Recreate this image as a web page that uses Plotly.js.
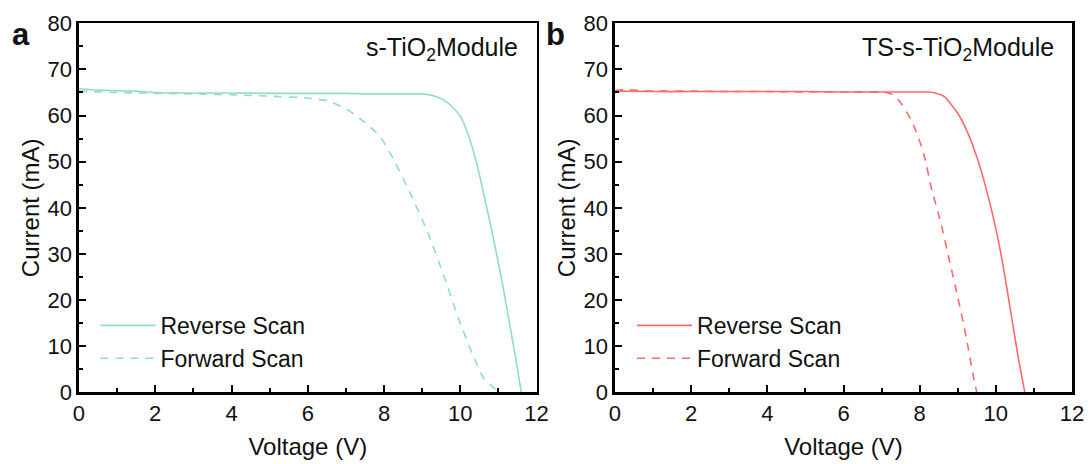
<!DOCTYPE html>
<html>
<head>
<meta charset="utf-8">
<script src="https://cdn.plot.ly/plotly-3.0.1.min.js"></script>
<style>html,body{margin:0;padding:0;background:#fff;}#chart{width:1091px;height:464px;}</style>
</head>
<body>
<div id="chart"></div>
<script>
// Panel a: s-TiO2 Module
const aRevV = [0, 0.5, 1, 1.5, 2, 3, 4, 5, 6, 7, 7.5, 8, 8.5, 9.0, 9.3, 9.58, 9.8, 10.01, 10.2, 10.43, 10.6, 10.86, 11.1, 11.29, 11.45, 11.6];
const aRevI = [65.8, 65.5, 65.4, 65.3, 65.0, 64.9, 64.9, 64.8, 64.8, 64.8, 64.7, 64.7, 64.7, 64.7, 64.3, 63.3, 61.8, 59.7, 56.0, 49.7, 43.5, 33.7, 23.8, 15.0, 7.5, 0];
const aFwdV = [0, 1, 2, 3, 4, 5, 6, 6.5, 7.0, 7.5, 7.9, 8.22, 8.69, 9.16, 9.58, 9.97, 10.35, 10.6, 10.75, 10.9, 11.0];
const aFwdI = [65.3, 65.0, 64.8, 64.7, 64.5, 64.2, 63.8, 63.2, 61.5, 58.5, 55.4, 51.0, 43.1, 34.4, 25.0, 15.6, 7.7, 3.2, 2.0, 0.8, 0];
// Panel b: TS-s-TiO2 Module
const bRevV = [0, 1, 2, 3, 4, 5, 6, 7, 8.0, 8.22, 8.45, 8.65, 9.0, 9.26, 9.52, 9.75, 10.0, 10.2, 10.4, 10.6, 10.76];
const bRevI = [65.3, 65.2, 65.2, 65.2, 65.2, 65.2, 65.1, 65.1, 65.1, 65.1, 64.8, 64.1, 60.5, 56.3, 50.5, 44.0, 35.5, 27.0, 17.0, 7.0, 0];
const bFwdV = [0, 0.3, 1, 2, 3, 4, 5, 6, 7.0, 7.25, 7.48, 7.78, 7.96, 8.13, 8.30, 8.56, 8.78, 9.0, 9.22, 9.43, 9.5];
const bFwdI = [65.4, 65.6, 65.3, 65.3, 65.2, 65.2, 65.1, 65.1, 65.1, 64.7, 63.0, 59.0, 55.4, 51.0, 44.5, 36.6, 28.6, 20.7, 12.0, 2.6, 0];

const seriesNames = ['Reverse Scan', 'Forward Scan'];
const panelLabels = ['a', 'b'];
const panelTitles = ['s-TiO<sub>2</sub>Module', 'TS-s-TiO<sub>2</sub>Module'];
const xTitle = 'Voltage (V)';
const yTitle = 'Current (mA)';

const green = '#8fe0ba';
const red = '#ff6a6a';
const FONT = 'Liberation Sans, Arial, sans-serif';

function lineStyle(color, dash) {
  const s = {color: color, width: 1.6, shape: 'spline', smoothing: 0.5};
  if (dash) s.dash = '8px,7px';
  return s;
}

const traces = [
  {x: aRevV, y: aRevI, name: seriesNames[0], mode: 'lines', line: lineStyle(green, false), xaxis: 'x', yaxis: 'y', legend: 'legend'},
  {x: aFwdV, y: aFwdI, name: seriesNames[1], mode: 'lines', line: lineStyle(green, true), xaxis: 'x', yaxis: 'y', legend: 'legend'},
  {x: bRevV, y: bRevI, name: seriesNames[0], mode: 'lines', line: lineStyle(red, false), xaxis: 'x2', yaxis: 'y2', legend: 'legend2'},
  {x: bFwdV, y: bFwdI, name: seriesNames[1], mode: 'lines', line: lineStyle(red, true), xaxis: 'x2', yaxis: 'y2', legend: 'legend2'}
];

function xax(domain, anchor) {
  return {
    domain: domain, anchor: anchor, range: [0, 12], dtick: 2, tick0: 0,
    ticks: 'inside', ticklen: 7, tickwidth: 2, tickcolor: '#000',
    minor: {ticks: 'inside', ticklen: 4, tickwidth: 2, dtick: 1, tickcolor: '#000'},
    showline: true, linewidth: 2.5, linecolor: '#000', mirror: true,
    showgrid: false, zeroline: false,
    tickfont: {family: FONT, size: 22, color: '#111'},
    title: {text: xTitle, font: {family: FONT, size: 24, color: '#111'}, standoff: 13}
  };
}
function yax(domain, anchor) {
  return {
    domain: domain, anchor: anchor, range: [0, 80], dtick: 10, tick0: 0,
    ticks: 'inside', ticklen: 7, tickwidth: 2, tickcolor: '#000',
    minor: {ticks: 'inside', ticklen: 4, tickwidth: 2, dtick: 5, tickcolor: '#000'},
    showline: true, linewidth: 2.5, linecolor: '#000', mirror: true,
    showgrid: false, zeroline: false,
    tickfont: {family: FONT, size: 22, color: '#111'},
    title: {text: yTitle, font: {family: FONT, size: 24, color: '#111'}, standoff: 1}
  };
}

const yDom = [0.1545, 0.9498];
const legendFont = {family: FONT, size: 23, color: '#111'};
const layout = {
  width: 1091, height: 464,
  margin: {l: 0, r: 0, t: 0, b: 0},
  paper_bgcolor: '#fff', plot_bgcolor: '#fff',
  font: {family: FONT, color: '#111'},
  xaxis: xax([0.0724, 0.4918], 'y'),
  yaxis: yax(yDom, 'x'),
  xaxis2: xax([0.5637, 0.9826], 'y2'),
  yaxis2: yax(yDom, 'x2'),
  legend: {x: 0.0875, y: 0.345, xanchor: 'left', yanchor: 'top', bgcolor: 'rgba(0,0,0,0)', font: legendFont, itemwidth: 55, tracegroupgap: 0},
  legend2: {x: 0.5793, y: 0.345, xanchor: 'left', yanchor: 'top', bgcolor: 'rgba(0,0,0,0)', font: legendFont, itemwidth: 55, tracegroupgap: 0},
  annotations: [
    {text: '<b>' + panelLabels[0] + '</b>', xref: 'paper', yref: 'paper', x: 0.0195, y: 0.925, showarrow: false, font: {family: FONT, size: 31, color: '#111'}, xanchor: 'center', yanchor: 'middle'},
    {text: '<b>' + panelLabels[1] + '</b>', xref: 'paper', yref: 'paper', x: 0.509, y: 0.925, showarrow: false, font: {family: FONT, size: 31, color: '#111'}, xanchor: 'center', yanchor: 'middle'},
    {text: panelTitles[0], xref: 'x domain', yref: 'y domain', x: 0.963, y: 0.93, showarrow: false, font: {family: FONT, size: 25, color: '#111'}, xanchor: 'right', yanchor: 'middle'},
    {text: panelTitles[1], xref: 'x2 domain', yref: 'y2 domain', x: 0.966, y: 0.93, showarrow: false, font: {family: FONT, size: 25, color: '#111'}, xanchor: 'right', yanchor: 'middle'}
  ],
  showlegend: true
};

Plotly.newPlot('chart', traces, layout, {displayModeBar: false, staticPlot: true});
</script>
</body>
</html>
